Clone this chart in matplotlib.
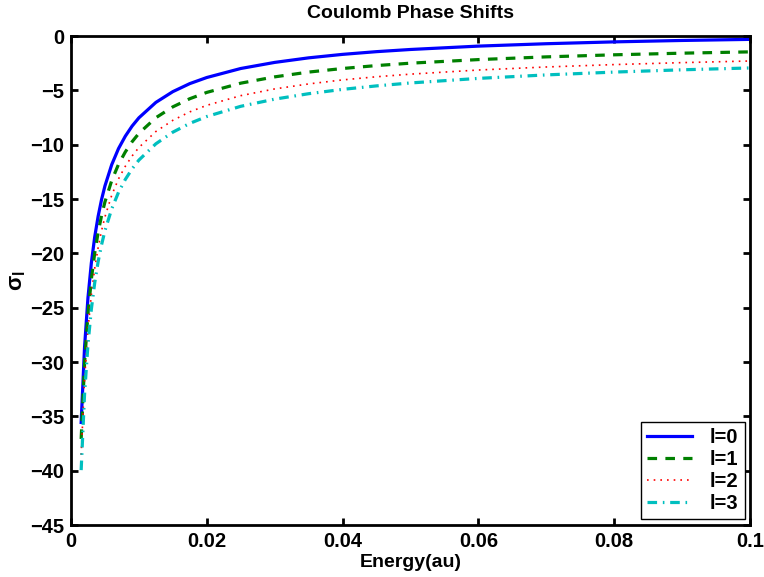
import numpy as np
import matplotlib
matplotlib.use('Agg')
import matplotlib.pyplot as plt

plt.rcParams['font.family'] = ['Liberation Sans', 'DejaVu Sans']
plt.rcParams['font.weight'] = 'bold'
plt.rcParams['mathtext.fontset'] = 'custom'
plt.rcParams['mathtext.rm'] = 'Liberation Sans'
plt.rcParams['mathtext.it'] = 'Liberation Sans'

# energy grid (au) and phase shifts sigma_l for l = 0..3
energy = [0.0015, 0.002, 0.0025, 0.003, 0.0035, 0.004, 0.0045, 0.005, 0.006,
          0.007, 0.008, 0.009, 0.01, 0.0125, 0.015, 0.0175, 0.02, 0.025,
          0.03, 0.035, 0.04, 0.045, 0.05, 0.06, 0.07, 0.08, 0.09, 0.1]
sig0 = [-35.56, -28.62, -24.10, -20.89, -18.47, -16.59, -15.06, -13.80, -11.84,
        -10.36, -9.22, -8.29, -7.53, -6.11, -5.12, -4.38, -3.82, -2.99,
        -2.43, -2.01, -1.69, -1.44, -1.24, -0.93, -0.71, -0.54, -0.41, -0.31]
sig1 = [-37.08, -30.13, -25.60, -22.38, -19.96, -18.07, -16.54, -15.27, -13.30,
        -11.81, -10.67, -9.73, -8.96, -7.52, -6.52, -5.77, -5.19, -4.34,
        -3.76, -3.32, -2.99, -2.72, -2.50, -2.17, -1.92, -1.73, -1.58, -1.46]
sig2 = [-38.54, -31.57, -27.03, -23.80, -21.36, -19.47, -17.92, -16.65, -14.65,
        -13.15, -11.99, -11.04, -10.26, -8.79, -7.76, -6.98, -6.38, -5.49,
        -4.87, -4.41, -4.04, -3.75, -3.51, -3.13, -2.85, -2.63, -2.45, -2.30]
sig3 = [-39.95, -32.96, -28.39, -25.14, -22.69, -20.77, -19.22, -17.92, -15.91,
        -14.38, -13.20, -12.23, -11.42, -9.92, -8.85, -8.04, -7.41, -6.47,
        -5.81, -5.31, -4.91, -4.59, -4.32, -3.90, -3.58, -3.32, -3.11, -2.94]

labels = ['l=0', 'l=1', 'l=2', 'l=3']
xticks = [0, 0.02, 0.04, 0.06, 0.08, 0.1]
xticklabels = ['0', '0.02', '0.04', '0.06', '0.08', '0.1']
yticks = [0, -5, -10, -15, -20, -25, -30, -35, -40, -45]

fig = plt.figure(figsize=(7.64, 5.77), dpi=100)
ax = fig.add_axes([0.0929, 0.0901, 0.8888, 0.8475])

ax.plot(energy, sig0, color=(0, 0, 1), lw=2.3, label=labels[0])
ax.plot(energy, sig1, color=(0, 0.5, 0), lw=2.3, dashes=(3, 2.6), label=labels[1])
ax.plot(energy, sig2, color=(1, 0, 0), lw=1.2, dashes=(1, 3.0), label=labels[2])
ax.plot(energy, sig3, color=(0, 0.75, 0.75), lw=2.3, dashes=(3, 1.8, 0.5, 1.8), label=labels[3])

ax.set_xlim(0, 0.1)
ax.set_ylim(-45, 0)
ax.set_xticks(xticks)
ax.set_xticklabels(xticklabels)
ax.set_yticks(yticks)
ax.set_yticklabels([str(t).replace('-', '\u2212') for t in yticks])
ax.tick_params(direction='in', length=5, width=2, top=True, right=True,
               labelsize=14.5, pad=5)
for s in ax.spines.values():
    s.set_linewidth(2)

ax.set_title('Coulomb Phase Shifts', fontsize=14, fontweight='bold', pad=13)
ax.set_xlabel('Energy(au)', fontsize=14, fontweight='bold', labelpad=2)
ax.set_ylabel(r'$\sigma_{\rm l}$', fontsize=16, labelpad=1)

leg = ax.legend(loc='lower right', bbox_to_anchor=(0.992, 0.012), borderaxespad=0,
                fancybox=False, framealpha=1, edgecolor='black',
                prop={'size': 14.5, 'weight': 'bold'}, handlelength=2.2,
                labelspacing=0.15, borderpad=0.3, handletextpad=0.9)
leg.get_frame().set_linewidth(1)

plt.savefig('out.png', dpi=100)
